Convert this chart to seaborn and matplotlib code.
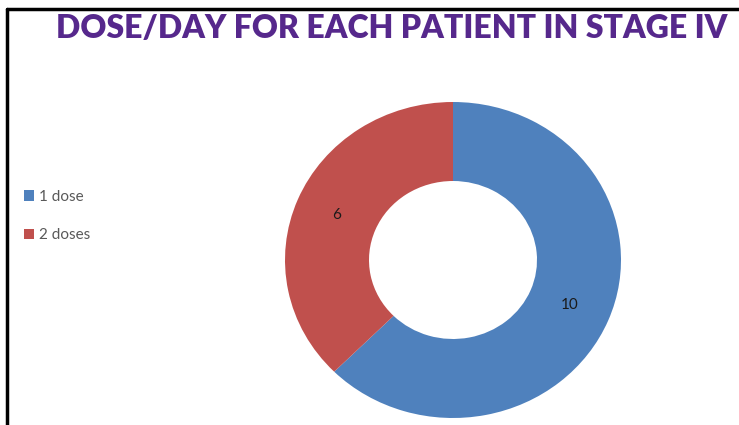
import matplotlib
matplotlib.use("Agg")
import matplotlib.pyplot as plt
import seaborn as sns
import numpy as np
from matplotlib.lines import Line2D
from matplotlib.patches import Rectangle

# Doses per day among stage IV patients
categories = ["1 dose", "2 doses"]
patients = [10, 6]
title = "DOSE/DAY FOR EACH PATIENT IN STAGE IV"

sns.set_theme(style="white")
plt.rcParams["font.family"] = ["Lato", "DejaVu Sans"]
colors = ["#4F81BD", "#C0504D"]

W, H = 739, 425
fig = plt.figure(figsize=(W / 100, H / 100), dpi=100)

# donut axes, placed in pixel units
cx, cy, rx, ry = 453, 425 - 260, 168, 158
ax = fig.add_axes([(cx - rx) / W, (cy - ry) / H, 2 * rx / W, 2 * ry / H])
wedges, _ = ax.pie(patients, colors=colors, startangle=90, counterclock=False,
                   radius=1, wedgeprops=dict(width=0.5, edgecolor="none"))
ax.set_xlim(-1, 1)
ax.set_ylim(-1, 1)
ax.set_aspect("auto")
ax.axis("off")

# value labels at the middle of each ring segment
for w, v in zip(wedges, patients):
    ang = np.deg2rad((w.theta1 + w.theta2) / 2)
    r = 0.75
    ax.text(r * np.cos(ang), r * np.sin(ang), str(v), ha="center", va="center",
            fontsize=11, color="#1a1a1a")

# legend on the left
handles = [Rectangle((0, 0), 1, 1, facecolor=c, edgecolor="none") for c in colors]
fig.legend(handles, categories, loc="upper left",
           bbox_to_anchor=(10 / W, 1 - 176 / H), frameon=False,
           fontsize=11, handlelength=0.7, handleheight=0.7,
           handletextpad=0.3, labelspacing=1.6, labelcolor="#595959")

# title, sized to span the top band
ttl = fig.text(392 / W, 1 - 29 / H, title, ha="center", va="center",
               fontsize=27, fontweight="heavy", color="#56288C")
renderer = fig.canvas.get_renderer()
width = ttl.get_window_extent(renderer).width
ttl.set_fontsize(27 * 670 / width)

# frame lines at the top and left
fig.add_artist(Line2D([7 / W, 1], [1 - 9 / H, 1 - 9 / H], color="black", lw=2.5))
fig.add_artist(Line2D([7 / W, 7 / W], [0, 1 - 9 / H], color="black", lw=2.5))

fig.savefig("out.png", dpi=100, facecolor="white")
